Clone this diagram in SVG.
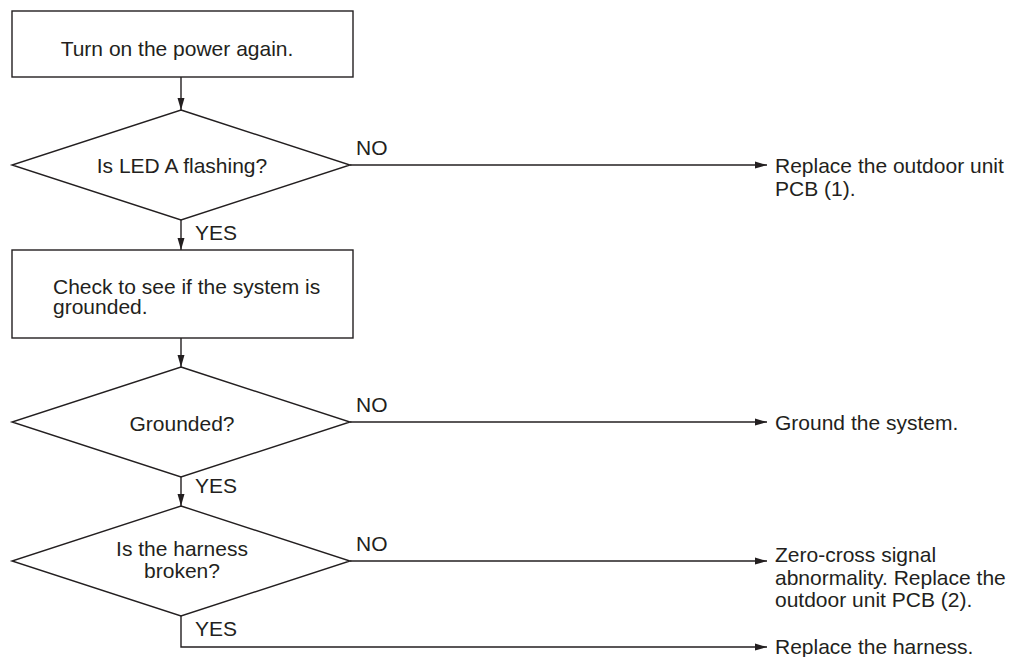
<svg xmlns="http://www.w3.org/2000/svg" width="1017" height="657" viewBox="0 0 1017 657">
  <defs>
    <marker id="arrow" markerWidth="12" markerHeight="8" refX="12" refY="4" orient="auto" markerUnits="userSpaceOnUse">
      <path d="M0,0.5 L12,4 L0,7.5 Z" fill="#231f20"/>
    </marker>
    <style>
      .shape { fill: #ffffff; stroke: #231f20; stroke-width: 1.4; }
      .conn { fill: none; stroke: #231f20; stroke-width: 1.4; }
      text { font-family: "Liberation Sans", Arial, sans-serif; font-size: 21px; fill: #231f20; }
      .mid { text-anchor: middle; }
    </style>
  </defs>
  <rect width="1017" height="657" fill="#ffffff"/>

  <!-- connectors -->
  <g id="connectors">
    <line class="conn" x1="181" y1="77" x2="181" y2="110" marker-end="url(#arrow)"/>
    <line class="conn" x1="181" y1="220" x2="181" y2="250" marker-end="url(#arrow)"/>
    <line class="conn" x1="181" y1="338" x2="181" y2="367" marker-end="url(#arrow)"/>
    <line class="conn" x1="181" y1="477" x2="181" y2="506" marker-end="url(#arrow)"/>
    <line class="conn" x1="350" y1="165" x2="767" y2="165" marker-end="url(#arrow)"/>
    <line class="conn" x1="350" y1="422" x2="767" y2="422" marker-end="url(#arrow)"/>
    <line class="conn" x1="350" y1="561" x2="767" y2="561" marker-end="url(#arrow)"/>
    <polyline class="conn" points="181,616 181,647 767,647" marker-end="url(#arrow)"/>
    <text x="195" y="240">YES</text>
    <text x="195" y="493">YES</text>
    <text x="195" y="636">YES</text>
    <text x="356" y="155">NO</text>
    <text x="356" y="412">NO</text>
    <text x="356" y="551">NO</text>
  </g>

  <!-- process steps and decisions -->
  <g id="power-on">
    <rect class="shape" x="12" y="11" width="341" height="66"/>
    <text class="mid" x="177" y="56">Turn on the power again.</text>
  </g>
  <g id="led-check">
    <polygon class="shape" points="181,110 350,165 181,220 12,165"/>
    <text class="mid" x="182" y="173">Is LED A flashing?</text>
  </g>
  <g id="ground-check">
    <rect class="shape" x="12" y="250" width="341" height="88"/>
    <text x="53" y="294">Check to see if the system is</text>
    <text x="53" y="314">grounded.</text>
  </g>
  <g id="grounded">
    <polygon class="shape" points="181,367 350,422 181,477 12,422"/>
    <text class="mid" x="182" y="431">Grounded?</text>
  </g>
  <g id="harness">
    <polygon class="shape" points="181,506 350,561 181,616 12,561"/>
    <text class="mid" x="182" y="556">Is the harness</text>
    <text class="mid" x="182" y="578">broken?</text>
  </g>

  <!-- outcomes -->
  <g id="replace-pcb-1">
    <text x="775" y="173">Replace the outdoor unit</text>
    <text x="775" y="196">PCB (1).</text>
  </g>
  <g id="ground-system">
    <text x="775" y="430">Ground the system.</text>
  </g>
  <g id="replace-pcb-2">
    <text x="775" y="562">Zero-cross signal</text>
    <text x="775" y="585">abnormality. Replace the</text>
    <text x="775" y="607">outdoor unit PCB (2).</text>
  </g>
  <g id="replace-harness">
    <text x="775" y="654">Replace the harness.</text>
  </g>
</svg>
